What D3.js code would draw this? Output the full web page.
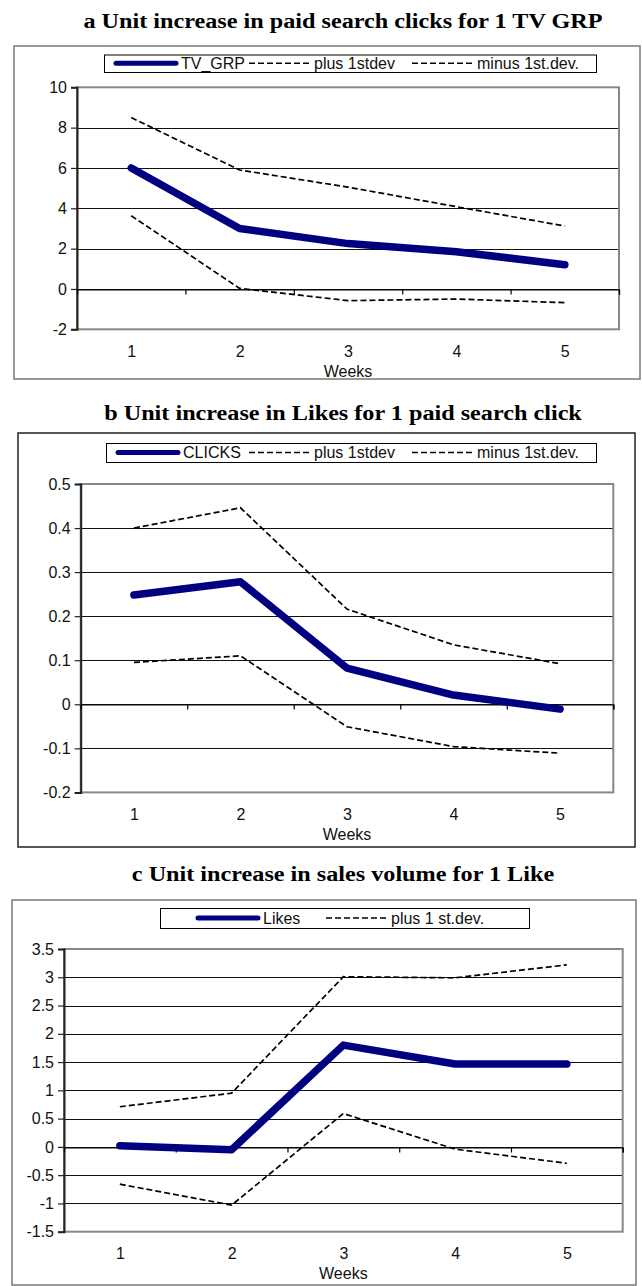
<!DOCTYPE html>
<html>
<head>
<meta charset="utf-8">
<script src="https://cdn.jsdelivr.net/npm/d3@7"></script>
<style>
  html, body { margin: 0; padding: 0; background: #fff; }
  svg { display: block; }
  .tick text { font-family: "Liberation Sans", Arial, sans-serif; }
</style>
</head>
<body>
<svg id="chart" width="642" height="1286"></svg>
<script>
// Weeks after the impulse
const weeks = [1, 2, 3, 4, 5];

// a: paid search clicks per TV GRP
const tvGrp = [6.0, 3.0, 2.25, 1.85, 1.2];
const tvGrpPlus = [8.5, 5.9, 5.05, 4.08, 3.12];
const tvGrpMinus = [3.63, 0.03, -0.58, -0.5, -0.68];
const ticksA = [-2, 0, 2, 4, 6, 8, 10];
const tickLabelsA = ["-2", "0", "2", "4", "6", "8", "10"];

// b: Likes per paid search click
const clicks = [0.248, 0.278, 0.082, 0.021, -0.011];
const clicksPlus = [0.4, 0.446, 0.216, 0.135, 0.092];
const clicksMinus = [0.095, 0.11, -0.051, -0.096, -0.111];
const ticksB = [-0.2, -0.1, 0, 0.1, 0.2, 0.3, 0.4, 0.5];
const tickLabelsB = ["-0.2", "-0.1", "0", "0.1", "0.2", "0.3", "0.4", "0.5"];

// c: sales volume per Like
const likes = [0.02, -0.05, 1.8, 1.466, 1.466];
const likesPlus = [0.71, 0.95, 3.01, 2.99, 3.22];
const likesMinus = [-0.66, -1.03, 0.59, -0.04, -0.29];
const ticksC = [-1.5, -1, -0.5, 0, 0.5, 1, 1.5, 2, 2.5, 3, 3.5];
const tickLabelsC = ["-1.5", "-1", "-0.5", "0", "0.5", "1", "1.5", "2", "2.5", "3", "3.5"];

const titles = [
  "a Unit increase in paid search clicks for 1 TV GRP",
  "b Unit increase in Likes for 1 paid search click",
  "c Unit increase in sales volume for 1 Like"
];
const legendNamesA = ["TV_GRP", "plus 1stdev", "minus 1st.dev."];
const legendNamesB = ["CLICKS", "plus 1stdev", "minus 1st.dev."];
const legendNamesC = ["Likes", "plus 1 st.dev."];
const axisTitle = "Weeks";

const NAVY = "#000080";
const SANS = '"Liberation Sans", Arial, Helvetica, sans-serif';
const SERIF = '"Liberation Serif", "Times New Roman", Times, serif';

const svg = d3.select("#chart");

// Layout of the three stacked panels
const panels = [
  {
    title: titles[0], titleY: 28,
    frame: { x0: 14, y0: 46, x1: 640, y1: 379, stroke: "#777" },
    legend: { x0: 104, y0: 54.5, x1: 596, y1: 72, slots: [116, 249, 412] },
    legendNames: legendNamesA,
    plot: { x0: 77, y0: 87.3, x1: 619, y1: 329.3 },
    ticks: ticksA, labels: tickLabelsA,
    main: tvGrp, upper: tvGrpPlus, lower: tvGrpMinus
  },
  {
    title: titles[1], titleY: 420,
    frame: { x0: 18, y0: 433, x1: 635, y1: 847, stroke: "#222" },
    legend: { x0: 106, y0: 443, x1: 596, y1: 462, slots: [118, 249, 412] },
    legendNames: legendNamesB,
    plot: { x0: 80.7, y0: 484, x1: 613.3, y1: 792.4 },
    ticks: ticksB, labels: tickLabelsB,
    main: clicks, upper: clicksPlus, lower: clicksMinus
  },
  {
    title: titles[2], titleY: 881,
    frame: { x0: 12, y0: 900, x1: 636, y1: 1285, stroke: "#777" },
    legend: { x0: 160, y0: 908, x1: 529, y1: 928, slots: [198, 326] },
    legendNames: legendNamesC,
    plot: { x0: 64, y0: 949, x1: 622.7, y1: 1231.7 },
    ticks: ticksC, labels: tickLabelsC,
    main: likes, upper: likesPlus, lower: likesMinus
  }
];

panels.forEach(p => {
  const g = svg.append("g");

  // outer chart frame
  g.append("rect")
    .attr("x", p.frame.x0).attr("y", p.frame.y0)
    .attr("width", p.frame.x1 - p.frame.x0)
    .attr("height", p.frame.y1 - p.frame.y0)
    .attr("fill", "#fff").attr("stroke", p.frame.stroke).attr("stroke-width", 1.5);

  // panel title, slightly widened bold serif
  g.append("text")
    .attr("transform", `translate(343,${p.titleY}) scale(1.1,1)`)
    .attr("text-anchor", "middle")
    .attr("font-family", SERIF).attr("font-weight", "bold").attr("font-size", 22)
    .text(p.title);

  const x = d3.scaleLinear().domain([0.5, 5.5]).range([p.plot.x0, p.plot.x1]);
  const y = d3.scaleLinear()
    .domain([p.ticks[0], p.ticks[p.ticks.length - 1]])
    .range([p.plot.y1, p.plot.y0]);

  // horizontal gridlines
  g.append("g").selectAll("line")
    .data(p.ticks.slice(1, -1))
    .join("line")
    .attr("x1", p.plot.x0).attr("x2", p.plot.x1)
    .attr("y1", d => Math.round(y(d)) + 0.5).attr("y2", d => Math.round(y(d)) + 0.5)
    .attr("stroke", "#111").attr("stroke-width", 1);

  // plot area border
  g.append("rect")
    .attr("x", p.plot.x0).attr("y", p.plot.y0)
    .attr("width", p.plot.x1 - p.plot.x0).attr("height", p.plot.y1 - p.plot.y0)
    .attr("fill", "none").attr("stroke", "#888").attr("stroke-width", 2);

  // value axis
  const labelOf = new Map(p.ticks.map((t, i) => [t, p.labels[i]]));
  const yAxis = g.append("g")
    .attr("transform", `translate(${p.plot.x0},0)`)
    .call(d3.axisLeft(y).tickValues(p.ticks).tickSize(6).tickPadding(4)
      .tickFormat(d => labelOf.get(d)));
  yAxis.select(".domain").attr("stroke", "#222").attr("stroke-width", 2);
  yAxis.selectAll(".tick line").attr("stroke", "#222").attr("stroke-width", 1.2);
  yAxis.selectAll(".tick text").attr("font-size", 16).attr("fill", "#111");

  // category axis line at zero with tick marks between weeks
  const zeroAxis = g.append("g")
    .attr("transform", `translate(0,${Math.round(y(0)) + 0.5})`)
    .call(d3.axisBottom(x).tickValues([1.5, 2.5, 3.5, 4.5, 5.5]).tickSize(5).tickFormat(""));
  zeroAxis.select(".domain").attr("stroke", "#000").attr("stroke-width", 1.2);
  zeroAxis.selectAll(".tick line").attr("stroke", "#000").attr("stroke-width", 1.2);

  // week labels under the plot
  const weekAxis = g.append("g")
    .attr("transform", `translate(0,${p.plot.y1})`)
    .call(d3.axisBottom(x).tickValues(weeks).tickSize(0).tickPadding(16).tickFormat(d3.format("d")));
  weekAxis.select(".domain").remove();
  weekAxis.selectAll(".tick text").attr("font-size", 16).attr("fill", "#111");

  g.append("text")
    .attr("x", x(3)).attr("y", p.plot.y1 + 47.5)
    .attr("text-anchor", "middle")
    .attr("font-family", SANS).attr("font-size", 16).attr("fill", "#111")
    .text(axisTitle);

  // series lines
  const line = d3.line().x((d, i) => x(weeks[i])).y(d => y(d));
  [p.upper, p.lower].forEach(s => {
    g.append("path").datum(s)
      .attr("d", line)
      .attr("fill", "none").attr("stroke", "#000")
      .attr("stroke-width", 1.7).attr("stroke-dasharray", "6,3");
  });
  g.append("path").datum(p.main)
    .attr("d", line)
    .attr("fill", "none").attr("stroke", NAVY)
    .attr("stroke-width", 7.5)
    .attr("stroke-linecap", "round").attr("stroke-linejoin", "round");

  // legend
  const L = p.legend;
  g.append("rect")
    .attr("x", L.x0 + 0.5).attr("y", L.y0 + 0.5)
    .attr("width", L.x1 - L.x0).attr("height", L.y1 - L.y0)
    .attr("fill", "#fff").attr("stroke", "#000").attr("stroke-width", 1);
  const cy = (L.y0 + L.y1) / 2;
  p.legendNames.forEach((name, i) => {
    const sx = L.slots[i];
    const sample = g.append("line")
      .attr("x1", sx).attr("x2", sx + 60)
      .attr("y1", cy).attr("y2", cy);
    if (i === 0) {
      sample.attr("stroke", NAVY).attr("stroke-width", 5).attr("stroke-linecap", "round");
    } else {
      sample.attr("stroke", "#000").attr("stroke-width", 1.6).attr("stroke-dasharray", "6,3");
    }
    g.append("text")
      .attr("x", sx + 65).attr("y", cy + 5.8)
      .attr("font-family", SANS).attr("font-size", 16).attr("fill", "#111")
      .text(name);
  });
});
</script>
</body>
</html>
